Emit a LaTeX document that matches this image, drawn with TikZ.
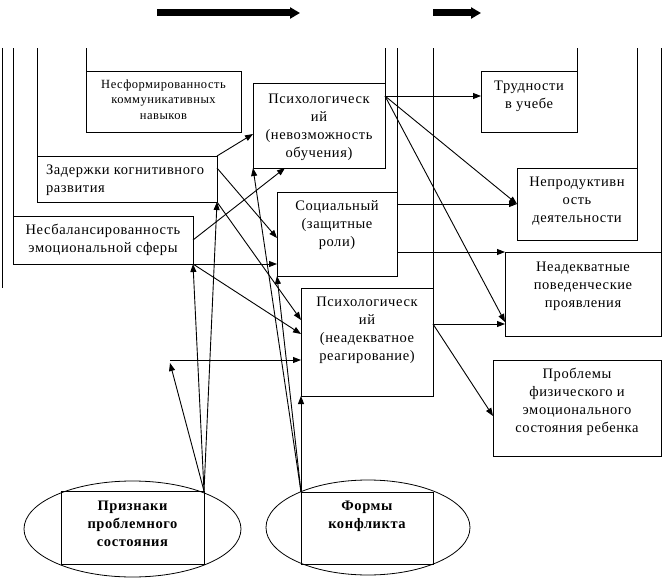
\documentclass[tikz,border=0pt]{standalone}
\usepackage{fontspec}
\setmainfont{Liberation Serif}
\newfontfamily\spf[LetterSpace=4]{Liberation Serif}
\usetikzlibrary{arrows.meta,shapes.geometric,calc}
\newcommand\mainf{\spf\fontsize{14.5}{18}\selectfont}
\newcommand\smallf{\spf\fontsize{12.5}{15.5}\selectfont}
\newcommand\boldf{\spf\bfseries\fontsize{14.5}{18}\selectfont}
\begin{document}
\begin{tikzpicture}[x=1pt,y=-1pt,
  box/.style={draw, line width=1pt, inner sep=0pt, outer sep=0pt, rectangle},
  oval/.style={draw, line width=0.8pt, inner sep=0pt, outer sep=0pt, ellipse},
  txt/.style={inner sep=0pt, outer sep=0pt, align=center, font=\mainf, anchor=north},
  arr/.style={line width=0.9pt, -{Triangle[length=8pt,width=6pt]}},
  ln/.style={line width=1pt},
  big/.style={line width=7pt, -{Triangle[length=10pt,width=11pt]}}]
\useasboundingbox (0,0) rectangle (662,578);

% top thick arrows
\coordinate (ta1s) at (157,13);
\coordinate (ta1e) at (300,13);
\coordinate (ta2s) at (433,13);
\coordinate (ta2e) at (481,13);
\draw[big] (ta1s) -- (ta1e);
\draw[big] (ta2s) -- (ta2e);

% boxes
\node[box, minimum width=155pt, minimum height=60pt] (nesf) at (163.5,102) {};
\node[box, minimum width=132pt, minimum height=84pt] (psy1) at (319,126) {};
\node[box, minimum width=180pt, minimum height=46pt] (zad) at (127,179) {};
\node[box, minimum width=180pt, minimum height=48pt] (nesb) at (103,240) {};
\node[box, minimum width=120pt, minimum height=84pt] (soc) at (337,234) {};
\node[box, minimum width=132pt, minimum height=108pt] (psy2) at (367,342) {};
\node[box, minimum width=96pt, minimum height=60pt] (trud) at (529,102) {};
\node[box, minimum width=120pt, minimum height=72pt] (nepr) at (577,204) {};
\node[box, minimum width=156pt, minimum height=84pt] (nead) at (583,294) {};
\node[box, minimum width=168pt, minimum height=96pt] (probl) at (577,408) {};
\node[oval, minimum width=217pt, minimum height=96pt] (e1) at (132.5,529) {};
\node[oval, minimum width=204pt, minimum height=95pt] (e2) at (368,527.5) {};
\node[box, minimum width=143pt, minimum height=73pt] (priz) at (132.5,527.5) {};
\node[box, minimum width=132pt, minimum height=72pt] (form) at (367,528) {};

% texts
\node[txt, font=\smallf] (tnesf) at ([yshift=-5.6pt]nesf.north) {\strut Несформированность\\коммуникативных\\навыков};
\node[txt] (tpsy1) at ([yshift=-6.5pt]psy1.north) {\strut Психологическ\\ий\\(невозможность\\обучения)};
\node[txt, anchor=north west, align=left] (tzad) at ([xshift=9pt,yshift=-5.5pt]zad.north west) {\strut Задержки когнитивного\\развития};
\node[txt] (tnesb) at ([yshift=-5.5pt]nesb.north) {\strut Несбалансированность\\эмоциональной сферы};
\node[txt] (tsoc) at ([yshift=-6pt]soc.north) {\strut Социальный\\(защитные\\роли)};
\node[txt] (tpsy2) at ([yshift=-6pt]psy2.north) {\strut Психологическ\\ий\\(неадекватное\\реагирование)};
\node[txt] (ttrud) at ([yshift=-6pt]trud.north) {\strut Трудности\\в учебе};
\node[txt] (tnepr) at ([yshift=-6pt]nepr.north) {\strut Непродуктивн\\ость\\деятельности};
\node[txt] (tnead) at ([yshift=-6.5pt]nead.north) {\strut Неадекватные\\поведенческие\\проявления};
\node[txt] (tprobl) at ([yshift=-6pt]probl.north) {\strut Проблемы\\физического и\\эмоционального\\состояния ребенка};
\node[txt, font=\boldf] (tpriz) at ([yshift=-6.5pt]priz.north) {\strut Признаки\\проблемного\\состояния};
\node[txt, font=\boldf] (tform) at ([yshift=-6pt]form.north) {\strut Формы\\конфликта};

% frame lines from the top
\coordinate (top) at (0,48);
\coordinate (l0a) at (2,48);
\coordinate (l0b) at (2,288);
\draw[ln] (l0a) -- (l0b);
\draw[ln] (nesb.north west) -- (nesb.north west |- top);
\draw[ln] (zad.north west) -- (zad.north west |- top);
\draw[ln] (nesf.north west) -- (nesf.north west |- top);
\draw[ln] (psy1.north east) -- (psy1.north east |- top);
\draw[ln] (soc.north east) -- (soc.north east |- top);
\draw[ln] (psy2.north east) -- (psy2.north east |- top);
\draw[ln] (trud.north east) -- (trud.north east |- top);
\draw[ln] (nepr.north east) -- (nepr.north east |- top);
\draw[ln] (nead.north east) -- (nead.north east |- top);

% connectors
\draw[arr] (zad.north east) -- ([yshift=-8pt]psy1.west);
\draw[arr] ([yshift=-12pt]zad.north east) -- ([yshift=-4pt]soc.west);
\draw[arr] (zad.south east) -- ([yshift=22pt]psy2.west);
\draw[arr] (nesb.east) -- ([xshift=-34pt]psy1.south);
\draw[arr] (nesb.south east) -- ([yshift=-30pt]soc.west);
\draw[arr] (nesb.south east) -- ([yshift=8pt]psy2.west);
\draw[arr] (priz.north east) -- (nesb.south east);
\draw[arr] (priz.north east) -- (zad.south east);
\coordinate (c1) at (170,363);
\coordinate (c2) at (170,360);
\draw[arr] (priz.north east) -- (c1);
\draw[arr] (c2) -- (c2 -| psy2.west);
\draw[arr] (form.north west) -- (psy2.south west);
\draw[arr] (form.north west) -- (soc.south west);
\draw[arr] (form.north west) -- (psy1.south west);
\coordinate (p1) at ([yshift=-12pt]psy1.north east);
\draw[arr] (p1) -- (p1 -| trud.west);
\draw[arr] (p1) -- (nepr.west);
\draw[arr] (p1) -- ([yshift=-28pt]nead.west);
\draw[arr] ([yshift=30pt]soc.east) -- (nepr.west);
\draw[arr] ([yshift=-18pt]soc.east) -- (nead.north west);
\coordinate (p2) at ([yshift=18pt]psy2.east);
\draw[arr] (p2) -- (p2 -| nead.west);
\draw[arr] (p2) -- ([yshift=-8pt]probl.west);
\end{tikzpicture}
\end{document}
